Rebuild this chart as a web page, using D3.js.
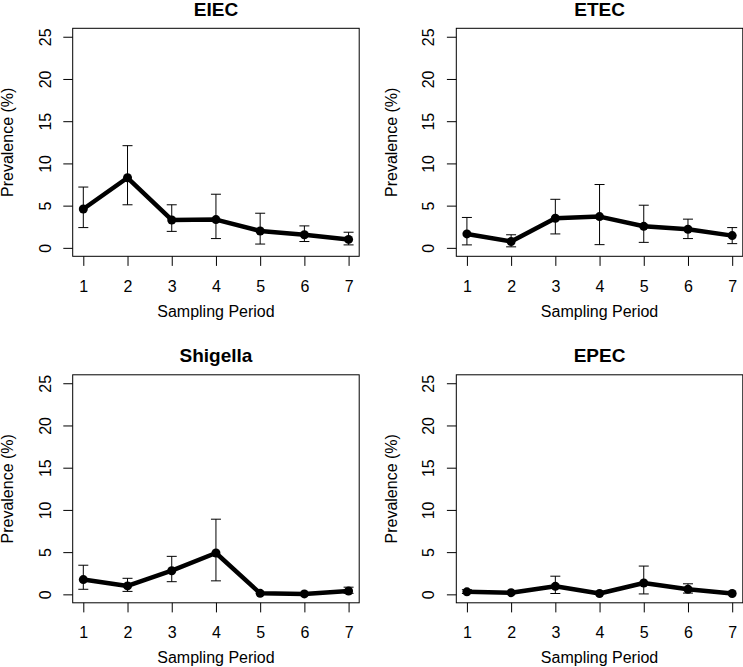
<!DOCTYPE html>
<html>
<head>
<meta charset="utf-8">
<script src="https://cdn.jsdelivr.net/npm/d3@7"></script>
<style>
  body { margin: 0; background: #fff; }
  svg { display: block; font-family: "Liberation Sans", Arial, sans-serif; }
</style>
</head>
<body>
<svg id="chart" width="743" height="667"></svg>
<script>
// prevalence per sampling period, with lower / upper error limits
const periods = [1, 2, 3, 4, 5, 6, 7]
const yTicks = [0, 5, 10, 15, 20, 25]
const titles = ['EIEC', 'ETEC', 'Shigella', 'EPEC']

const eiecMean  = [4.6, 8.3, 3.3, 3.35, 2.0, 1.55, 1.0]
const eiecLow   = [2.4, 5.1, 1.95, 1.1, 0.45, 0.75, 0.35]
const eiecHigh  = [7.2, 12.1, 5.1, 6.35, 4.1, 2.6, 1.85]

const etecMean  = [1.65, 0.75, 3.5, 3.7, 2.55, 2.2, 1.45]
const etecLow   = [0.35, 0.12, 1.65, 0.38, 0.65, 1.1, 0.5]
const etecHigh  = [3.6, 1.55, 5.75, 7.5, 5.05, 3.4, 2.4]

const shigMean  = [1.75, 1.0, 2.8, 4.9, 0.12, 0.05, 0.4]
const shigLow   = [0.6, 0.35, 1.5, 1.6, null, null, 0.12]
const shigHigh  = [3.45, 1.9, 4.5, 8.9, null, null, 0.85]

const epecMean  = [0.3, 0.2, 0.95, 0.1, 1.35, 0.6, 0.1]
const epecLow   = [0.1, null, 0.1, null, 0.05, 0.15, null]
const epecHigh  = [0.55, null, 2.15, null, 3.35, 1.25, null]

const panels = [
  { mean: eiecMean, low: eiecLow, high: eiecHigh },
  { mean: etecMean, low: etecLow, high: etecHigh },
  { mean: shigMean, low: shigLow, high: shigHigh },
  { mean: epecMean, low: epecLow, high: epecHigh }
]

const svg = d3.select('#chart')

const colsX = [72.7, 456.3]
const rowsY = [28.3, 374.8]
const boxW = 286.5
const boxH = 228

panels.forEach((p, i) => {
    const left = colsX[i % 2]
    const top = rowsY[Math.floor(i / 2)]

    const x = d3.scaleLinear().domain([0.76, 7.24]).range([0, boxW])
    const y = d3.scaleLinear().domain([-1, 26]).range([boxH, 0])

    const g = svg.append('g').attr('transform', `translate(${left},${top})`)

    // x axis
    const xa = g.append('g').attr('transform', `translate(0,${boxH})`)
        .call(d3.axisBottom(x).tickValues(periods).tickSize(9.6).tickFormat(d3.format('d')))
    xa.select('.domain').remove()
    xa.selectAll('line').attr('stroke', '#000')
    xa.selectAll('text').attr('y', 35.7).attr('dy', null)
        .style('font-size', '16px').style('fill', '#000')

    // y axis, labels turned like R's las=0
    const ya = g.append('g')
        .call(d3.axisLeft(y).tickValues(yTicks).tickSize(9.4))
    ya.select('.domain').remove()
    ya.selectAll('line').attr('stroke', '#000')
    ya.selectAll('text').attr('x', null).attr('dy', null).attr('text-anchor', 'middle')
        .attr('transform', 'translate(-22,0) rotate(-90)')
        .style('font-size', '16px').style('fill', '#000')

    g.append('rect').attr('x', 0).attr('y', 0).attr('width', boxW).attr('height', boxH)
        .style('fill', 'none').style('stroke', '#000').style('stroke-width', 1)

    // error bars
    const bars = periods.map((d, k) => ({ x: d, lo: p.low[k], hi: p.high[k] })).filter(b => b.lo !== null)
    const eb = g.selectAll('.err').data(bars).enter().append('g').attr('class', 'err')
        .style('stroke', '#000').style('stroke-width', 1)
    eb.append('line').attr('x1', b => x(b.x)).attr('x2', b => x(b.x)).attr('y1', b => y(b.lo)).attr('y2', b => y(b.hi))
    eb.append('line').attr('x1', b => x(b.x) - 5).attr('x2', b => x(b.x) + 5).attr('y1', b => y(b.lo)).attr('y2', b => y(b.lo))
    eb.append('line').attr('x1', b => x(b.x) - 5).attr('x2', b => x(b.x) + 5).attr('y1', b => y(b.hi)).attr('y2', b => y(b.hi))

    const line = d3.line().x((d, k) => x(periods[k])).y(d => y(d))
    g.append('path').datum(p.mean).attr('d', line)
        .style('fill', 'none').style('stroke', '#000').style('stroke-width', 4.5).style('stroke-linejoin', 'round')

    g.selectAll('.pt').data(p.mean).enter().append('circle')
        .attr('cx', (d, k) => x(periods[k])).attr('cy', d => y(d)).attr('r', 4.5).style('fill', '#000')

    // titles
    g.append('text').attr('x', boxW / 2).attr('y', -12.5).attr('text-anchor', 'middle')
        .style('font-size', '19px').style('font-weight', 'bold').text(titles[i])
    g.append('text').attr('x', boxW / 2).attr('y', boxH + 60.7).attr('text-anchor', 'middle')
        .style('font-size', '16px').text('Sampling Period')
    g.append('text').attr('transform', `translate(${-59.2},${boxH / 2}) rotate(-90)`).attr('text-anchor', 'middle')
        .style('font-size', '16px').text('Prevalence (%)')
})
</script>
</body>
</html>
